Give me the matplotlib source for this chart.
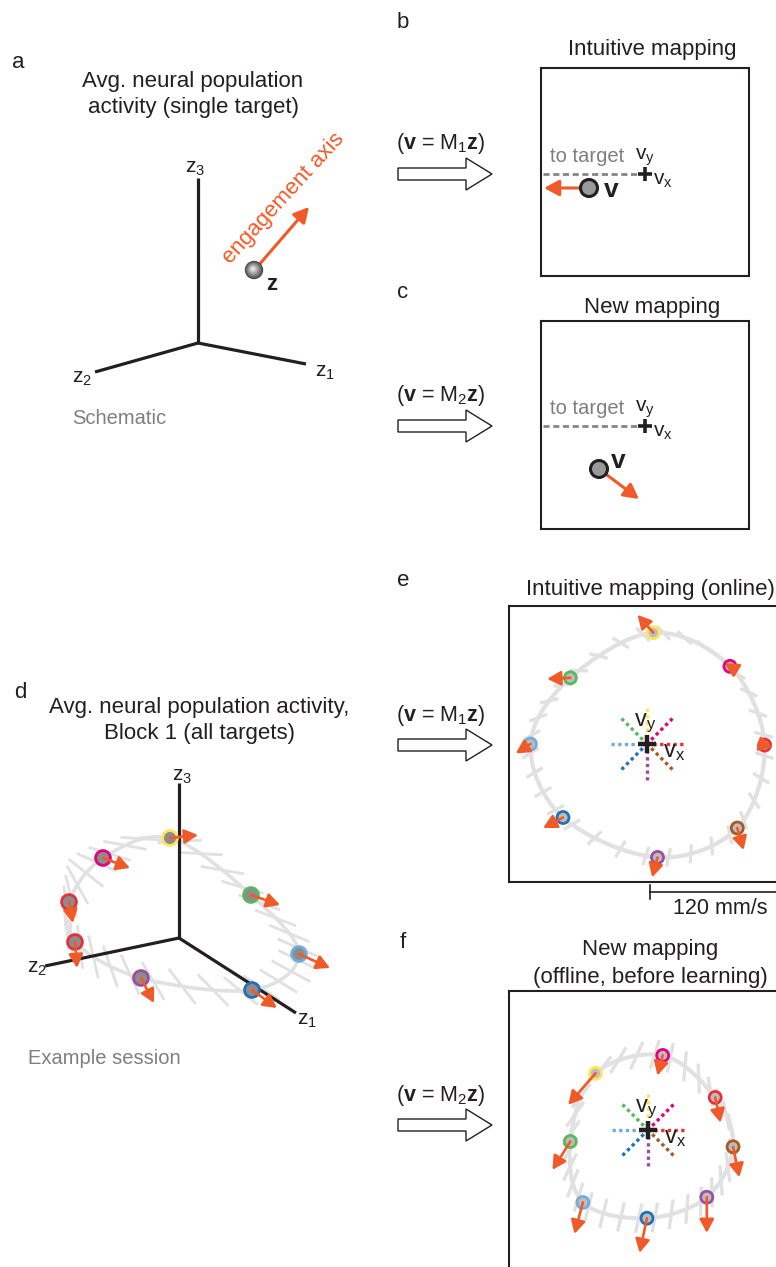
import numpy as np
import matplotlib
matplotlib.use("Agg")
import matplotlib.pyplot as plt
from matplotlib.patches import Circle, Polygon, FancyArrowPatch, PathPatch
from matplotlib.path import Path

plt.rcParams['font.family'] = ['Liberation Sans', 'DejaVu Sans']
plt.rcParams['mathtext.fontset'] = 'custom'
plt.rcParams['mathtext.rm'] = 'Liberation Sans'
plt.rcParams['mathtext.bf'] = 'Liberation Sans:bold'
plt.rcParams['mathtext.it'] = 'Liberation Sans:italic'

INK = '#231f20'
GREY_TXT = '#7f7f7f'
ORANGE = '#f05a28'
RING = '#e1e1e1'

# targets, in order: yellow, magenta, red, brown, purple, dark blue, light blue, green
TARGET_COLORS = ['#ffe45c', '#e5007d', '#e2323a', '#a65a28',
                 '#9b4f9e', '#2270b5', '#6faedc', '#5bb75b']
D_EDGE_COLORS = ['#ffe45c', '#e5007d', '#e2323a', '#e2323a',
                 '#9b4f9e', '#2270b5', '#6faedc', '#5bb75b']

# panel d: projected population activity (screen px) and engagement axis
D_POS_X = [170, 103, 69, 75, 141, 252, 299, 251]
D_POS_Y = [838, 858, 902, 942, 978, 990, 954, 895]
D_ARR_X = [28, 27, 4, 2, 13, 25, 31, 29]
D_ARR_Y = [-3, 10, 21, 26, 25, 18, 14, 10]

# panel e: cursor velocity under intuitive mapping (mm/s)
E_VEL_X = [6, 79, 112, 86, 10, -80, -111, -73]
E_VEL_Y = [106, 74, -1, -80, -108, -70, 0, 63]
E_ENG_X = [-15, -5, 8, 6, -5, -19, -14, -22]
E_ENG_Y = [17, 3, -2, -21, -19, -10, -9, -1]

# panel f: cursor velocity under new mapping (mm/s)
F_VEL_X = [-50, 14, 64, 81, 56, -1, -62, -74]
F_VEL_Y = [54, 71, 31, -16, -64, -84, -69, -11]
F_ENG_X = [-26, -5, 5, 6, 0, -7, -8, -17]
F_ENG_Y = [-30, -19, -24, -29, -34, -33, -30, -27]

# target direction of each colour (deg) for the centre rays
TARGET_ANGLES = [90, 45, 0, -45, -90, -135, 180, 135]
SCALE_BAR = 120  # mm/s
PX_PER_MMS = 1.05

fig = plt.figure(figsize=(7.76, 12.67), dpi=100)
ax = fig.add_axes([0, 0, 1, 1])
ax.set_xlim(0, 776)
ax.set_ylim(1267, 0)
ax.axis('off')


def txt(x, y, s, size=16, color=INK, ha='center', va='center', **kw):
    ax.text(x, y, s, fontsize=size, color=color, ha=ha, va=va, **kw)


def orange_arrow(x0, y0, x1, y1, z=6, lw=1.9, scale=18):
    ax.add_patch(FancyArrowPatch((x0, y0), (x1, y1),
                                 arrowstyle='-|>,head_length=0.45,head_width=0.24',
                                 mutation_scale=scale, color=ORANGE, lw=lw,
                                 shrinkA=0, shrinkB=0, zorder=z))


def block_arrow(yc, label):
    x0, xh, x1 = 398, 466, 492
    pts = [(x0, yc - 6), (xh, yc - 6), (xh, yc - 16), (x1, yc),
           (xh, yc + 16), (xh, yc + 6), (x0, yc + 6)]
    ax.add_patch(Polygon(pts, closed=True, fc='white', ec=INK, lw=1.0))
    txt(396, yc - 30, r"($\mathbf{v}$ = $\mathregular{M_%s}\mathbf{z}$)" % label,
        size=15.5, ha='left')


def box(l, t, r, b):
    ax.plot([l, r, r, l, l], [t, t, b, b, t], color=INK, lw=1.5,
            solid_joinstyle='miter', zorder=3)


def cross(cx, cy, half, lw, vy_off, vx_off, size=16):
    ax.plot([cx - half, cx + half], [cy, cy], color=INK, lw=lw,
            solid_capstyle='butt', zorder=7)
    ax.plot([cx, cx], [cy - half, cy + half], color=INK, lw=lw,
            solid_capstyle='butt', zorder=7)
    txt(cx + vy_off[0], cy + vy_off[1], r"$\mathregular{v_y}$", size=size, zorder=8)
    txt(cx + vx_off[0], cy + vx_off[1], r"$\mathregular{v_x}$", size=size, zorder=8)


def closed_curve(px, py):
    # Catmull-Rom control points as a closed cubic Bezier path
    P = np.column_stack([px, py]).astype(float)
    n = len(P)
    segs = []
    verts = [P[0]]
    codes = [Path.MOVETO]
    for i in range(n):
        p0, p1, p2, p3 = P[i - 1], P[i], P[(i + 1) % n], P[(i + 2) % n]
        c1 = p1 + (p2 - p0) / 6
        c2 = p2 - (p3 - p1) / 6
        verts += [c1, c2, p2]
        codes += [Path.CURVE4] * 3
        segs.append((p1, c1, c2, p2))
    return Path(verts, codes), segs


def ring_with_ticks(px, py, ax_dx, ax_dy, ring_lw, tick_lw, tick_len, per_seg=4):
    path, segs = closed_curve(px, py)
    ax.add_patch(PathPatch(path, fc='none', ec=RING, lw=ring_lw, zorder=1))
    theta = np.arctan2(ax_dy, ax_dx)
    n = len(segs)
    for i, (p1, c1, c2, p2) in enumerate(segs):
        for s in (np.arange(per_seg) + 0.5) / per_seg:
            pos = ((1 - s) ** 3 * p1 + 3 * (1 - s) ** 2 * s * c1
                   + 3 * (1 - s) * s ** 2 * c2 + s ** 3 * p2)
            # orientation blended between neighbouring engagement axes
            w = ((1 - s) * np.array([np.cos(2 * theta[i]), np.sin(2 * theta[i])])
                 + s * np.array([np.cos(2 * theta[(i + 1) % n]), np.sin(2 * theta[(i + 1) % n])]))
            a = np.arctan2(w[1], w[0]) / 2
            d = np.array([np.cos(a), np.sin(a)]) * tick_len / 2
            ax.plot([pos[0] - d[0], pos[0] + d[0]], [pos[1] - d[1], pos[1] + d[1]],
                    color=RING, lw=tick_lw, solid_capstyle='butt', zorder=1)


def target_marker(x, y, r, edge, fill):
    ax.add_patch(Circle((x, y), r, fc=fill, ec=edge, lw=2.0, zorder=5))


# ---------------- panel a ----------------
txt(18, 63, 'a', size=16)
txt(193, 82, 'Avg. neural population')
txt(193, 107, 'activity (single target)')
origin_a = (198, 343)
for end in [(306, 364), (95, 372), (198, 178)]:
    ax.plot([origin_a[0], end[0]], [origin_a[1], end[1]], color=INK, lw=2.3,
            solid_capstyle='butt')
txt(195, 168, r"$\mathregular{z_3}$", size=15)
txt(82, 378, r"$\mathregular{z_2}$", size=15)
txt(325, 372, r"$\mathregular{z_1}$", size=15)
orange_arrow(258, 266, 309, 207, lw=2.2, scale=20)
for k in range(14):
    f = k / 13
    g = 0.28 + 0.64 * f
    ax.add_patch(Circle((254 - 1.2 * f, 270 - 1.2 * f), 9.2 * (1 - 0.88 * f),
                        fc=(g, g, g), ec='none', zorder=7))
txt(272, 284, 'z', size=16, weight='bold')
txt(284, 198, 'engagement axis', size=16, color=ORANGE, rotation=47.5)
txt(72, 419, 'Schematic', size=14.5, color=GREY_TXT, ha='left')

# ---------------- panels b and c ----------------
bc_panels = [
    dict(lab='b', lab_y=22, title='Intuitive mapping', title_y=50, top=68, bottom=276,
         arrow_y=174, m='1', cur=(645, 174), dot=(589, 188), tip=(544, 188), vlab=(611, 190)),
    dict(lab='c', lab_y=293, title='New mapping', title_y=308, top=321, bottom=529,
         arrow_y=426, m='2', cur=(645, 426), dot=(599, 469), tip=(639, 499), vlab=(618, 461)),
]
for p in bc_panels:
    txt(403, p['lab_y'], p['lab'], size=16)
    txt(652, p['title_y'], p['title'])
    box(541, p['top'], 749, p['bottom'])
    block_arrow(p['arrow_y'], p['m'])
    cx, cy = p['cur']
    ax.plot([543, cx - 6], [cy, cy], color='#858585', lw=2.0, dashes=(2.2, 1.3),
            zorder=4)
    txt(550, cy - 17, 'to target', size=14.5, color=GREY_TXT, ha='left')
    cross(cx, cy, 7, 2.6, (0, -17), (18, 6), size=15)
    dx, dy = p['dot']
    orange_arrow(dx, dy, *p['tip'], z=4, lw=2.2, scale=20)
    ax.add_patch(Circle((dx, dy), 8.5, fc='#999999', ec=INK, lw=2.2, zorder=5))
    txt(p['vlab'][0], p['vlab'][1], 'v', size=19, weight='bold')

# ---------------- panel d ----------------
txt(20, 693, 'd', size=16)
txt(199, 708, 'Avg. neural population activity,')
txt(199, 733, 'Block 1 (all targets)')
ring_with_ticks(D_POS_X, D_POS_Y, D_ARR_X, D_ARR_Y, 2.6, 2.0, 44)
origin_d = (179, 938)
for end in [(296, 1013), (45, 966), (179, 783)]:
    ax.plot([origin_d[0], end[0]], [origin_d[1], end[1]], color=INK, lw=2.3,
            solid_capstyle='butt', zorder=2)
txt(182, 777, r"$\mathregular{z_3}$", size=15)
txt(37, 968, r"$\mathregular{z_2}$", size=15)
txt(307, 1020, r"$\mathregular{z_1}$", size=15)
for x, y, u, v, c in zip(D_POS_X, D_POS_Y, D_ARR_X, D_ARR_Y, D_EDGE_COLORS):
    target_marker(x, y, 7.4, c, '#8c8c8c')
    orange_arrow(x, y, x + u, y + v)
txt(28, 1058, 'Example session', size=14.5, color=GREY_TXT, ha='left')

# ---------------- panels e and f ----------------
ef_panels = [
    dict(lab='e', lab_y=580, titles=[('Intuitive mapping (online)', 590)],
         top=606, bottom=882, arrow_y=745, m='1', c=(647, 744),
         vx=E_VEL_X, vy=E_VEL_Y, ex=E_ENG_X, ey=E_ENG_Y, tick=19),
    dict(lab='f', lab_y=942, titles=[('New mapping', 950), ('(offline, before learning)', 977)],
         top=991, bottom=1300, arrow_y=1125, m='2', c=(648, 1130),
         vx=F_VEL_X, vy=F_VEL_Y, ex=F_ENG_X, ey=F_ENG_Y, tick=30),
]
for p in ef_panels:
    txt(403, p['lab_y'], p['lab'], size=16)
    for t, ty in p['titles']:
        txt(650, ty, t)
    box(509, p['top'], 800, p['bottom'])
    block_arrow(p['arrow_y'], p['m'])
    cx, cy = p['c']
    px = cx + np.array(p['vx']) * PX_PER_MMS
    py = cy - np.array(p['vy']) * PX_PER_MMS
    ux = np.array(p['ex']) * PX_PER_MMS
    uy = -np.array(p['ey']) * PX_PER_MMS
    ring_with_ticks(px, py, ux, uy, 3.0, 2.4, p['tick'])
    for ang, c in zip(TARGET_ANGLES, TARGET_COLORS):
        a = np.deg2rad(ang)
        ax.plot([cx + 6 * np.cos(a), cx + 38 * np.cos(a)],
                [cy - 6 * np.sin(a), cy - 38 * np.sin(a)],
                color=c, lw=2.4, dashes=(1, 1), solid_capstyle='butt', zorder=4)
    cross(cx, cy, 9, 3.2, (-2, -21), (27, 8), size=17)
    for x, y, u, v, c in zip(px, py, ux, uy, TARGET_COLORS):
        target_marker(x, y, 6.0, c, '#bdbdbd')
        orange_arrow(x, y, x + u, y + v)

# scale bar under panel e
ax.plot([650, 650], [885, 899], color=INK, lw=1.2)
ax.plot([650, 650 + SCALE_BAR * PX_PER_MMS], [892, 892], color=INK, lw=1.2)
txt(720, 908, f'{SCALE_BAR} mm/s', size=15.5)

fig.savefig('out.png', dpi=100, facecolor='white')
